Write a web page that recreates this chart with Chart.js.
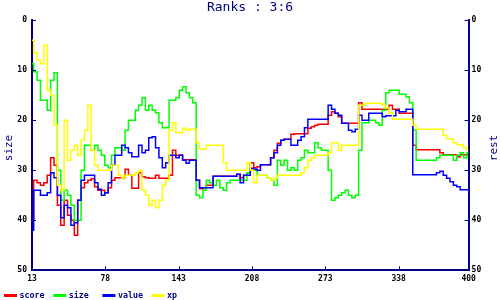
<!DOCTYPE html>
<html>
<head>
<meta charset="utf-8">
<script src="https://cdn.jsdelivr.net/npm/chart.js@4.4.0/dist/chart.umd.min.js"></script>
<style>
  html, body { margin: 0; padding: 0; background: #fff; }
  #wrap { width: 500px; height: 300px; }
</style>
</head>
<body>
<div id="wrap"><canvas id="ranks" width="500" height="300"></canvas></div>
<script>
// x positions (rounds) and the four rank series
var xs = [13,16,19,22,25,28,31,34,37,40,43,46,49,52,55,58,61,64,67,70,
  73,76,79,82,85,88,91,94,97,100,103,106,109,112,115,118,121,124,127,130,
  133,136,139,142,145,148,151,154,157,160,163,166,169,172,175,178,181,184,187,190,
  193,196,199,202,205,208,211,214,217,220,223,226,229,232,235,238,241,244,247,250,
  253,256,259,262,265,268,271,274,277,280,283,286,289,292,295,298,301,304,307,310,
  313,316,319,322,325,328,331,334,337,340,343,346,349,352,355,358,361,364,367,370,
  373,376,379,382,385,388,391,394,397,400];

var tickLabels = [13, 78, 143, 208, 273, 338, 400];
var rankTicks = [0, 10, 20, 30, 40, 50];

var score = [40,32,32.5,33,32.5,31,27.5,29,37,41,
  36,39,40,43,36,33.5,32.5,32,31.7,33.3,
  34,34,34.5,33.5,32,31.5,31.5,31.5,29.8,31,
  33.6,33.6,30.5,31.3,31.5,31.6,31.6,31,31.6,31.6,
  31.6,31,26,27,27,27.9,27.9,27.9,27.9,32,
  33.7,33.5,33,33,31.2,31.2,31.2,31.2,31.2,31.2,
  31.2,30.8,31.5,31,30.5,28.5,29.5,29.3,28.9,28.9,
  28.9,27.5,26,24.6,24,23.8,23.8,22.8,22.7,22.7,
  22.7,22.7,21.6,21.3,21,20.8,20.8,20.8,19,18.3,
  18.6,19.3,20.6,20.6,20.6,20.6,20.6,16.5,17.8,17.8,
  17.8,17.8,17.8,17.8,17.8,17.8,17,17.8,17.8,18.6,
  18.6,18.6,18.6,25,25.9,25.9,25.9,25.9,25.9,25.9,
  25.9,26.5,26.9,26.9,26.9,26.9,27.3,26.9,26.9,26.9];

var size = [8.7,10.3,12,16,16,18,12,10.5,30,36,
  34,35,37,40,40,30,25,25,26,25,
  26,27,29,29.5,27,25.5,25.5,26,22,20,
  20,18,17,15.5,18,17,18,18.5,20.5,21.5,
  21.5,16,16,15.5,14,13.3,14.5,15.5,16.5,35,
  35.5,34,32,32.5,33,32,33.5,34,32.5,32,
  32,32,32,32,30.5,30,30,31,31,31,
  31.5,32,33,28,29,28,30,29.5,30,28,
  27.5,26,26.5,26.5,24.5,25.5,26,26,30,36,
  35.5,35,34.5,34,35,35.5,35,26,20.5,20.5,
  20,20,20.5,21,18,14.5,14,14,14,14.8,
  14.8,15.3,16.5,22,28,28,28,28,28,28,
  27.5,27,27,27,27,28,27,26.5,27.5,26.5];

var value = [42,34,34,35,35,34.5,30.5,31.5,35,39.5,
  37,37.5,41,40.5,36,32,31,31,31,32.5,
  33.8,35,34.5,32.5,29,27,27,25,25.5,26.5,
  27.3,27.3,25,26.5,26,23.5,23.3,25.5,27.5,29.5,
  28.5,27,27,27.5,27,28,28.6,28,28,32,
  33.5,33.5,33.5,33.5,31.2,31.2,31.2,31.2,31.2,31.2,
  31.2,30.8,32.5,31,31,29.6,29.8,30,28.9,28.9,
  28.9,27.5,26.5,25,24,23.8,23.8,25,25,24,
  23.3,21.5,19.8,19.8,19.8,19.8,19.8,19.8,17,17.8,
  18.6,19,20.6,20.6,22,22.3,21.8,19,20,20,
  18.6,18.6,18.6,18.6,19.3,19.1,19.1,19.1,18,18.3,
  18.3,17.8,17.8,30.9,30.9,30.9,30.9,30.9,30.9,30.9,
  30.5,30.2,31,31.6,32.3,33,33.3,33.9,33.9,33.9];

var xp = [4,6.5,8,8.7,5,14,15,21,33,34,
  20,28,26,25,27,24,22,17,26,29,
  30,30,30,30,29,29,31,31.5,31,31,
  31,30.5,30,34,35,37,36,37.5,36,33,
  32,22,20.5,22.5,22.5,21.6,22,21.8,21.8,24.5,
  25.8,25.8,25,25,25,25,25,28.5,30,30,
  30,30,30,30,28.5,30,32.5,31,31,31,
  31.5,32,31.5,31,31,31,31,31,31,31,
  30.5,29.5,28,27.5,27,27,27,27,26.5,24.5,
  24.5,26,25,25,25,25,25,17,17,16.6,
  16.6,16.6,16.6,16.6,17,17.5,18.5,19.8,19.8,19.8,
  19.8,19.8,19.8,21,21.8,21.8,21.8,21.8,21.8,21.8,
  21.8,21.8,23,23.7,23.7,24.5,24.9,24.9,25.5,26];

var navy = '#000080';
var mono = "'DejaVu Sans Mono', 'Liberation Mono', monospace";

function pts(arr) {
  return xs.map(function(x, i) { return { x: x, y: arr[i] }; });
}

function series(label, arr, color, order) {
  return {
    label: label,
    data: pts(arr),
    borderColor: color,
    backgroundColor: color,
    borderWidth: 1.5,
    pointRadius: 0,
    stepped: 'middle',
    fill: false,
    order: order
  };
}

// inward tick marks, rotated axis titles and the legend strip under the x axis
var extras = {
  id: 'extras',
  afterDraw: function(chart) {
    var ctx = chart.ctx, a = chart.chartArea;
    var sx = chart.scales.x, yl = chart.scales.y;
    ctx.save();
    ctx.strokeStyle = navy;
    ctx.lineWidth = 1;
    ctx.beginPath();
    sx.ticks.forEach(function(t) {
      var px = Math.round(sx.getPixelForValue(t.value)) + 0.5;
      ctx.moveTo(px, a.bottom);
      ctx.lineTo(px, a.bottom - 4);
    });
    yl.ticks.forEach(function(t) {
      var py = Math.round(yl.getPixelForValue(t.value)) + 0.5;
      ctx.moveTo(a.left, py);
      ctx.lineTo(a.left + 4, py);
      ctx.moveTo(a.right, py);
      ctx.lineTo(a.right - 4, py);
    });
    ctx.stroke();

    ctx.fillStyle = navy;
    ctx.font = '11px ' + mono;
    ctx.textAlign = 'center';
    ctx.textBaseline = 'middle';
    [[9, 'size'], [494, 'rest']].forEach(function(t) {
      ctx.save();
      ctx.translate(t[0], 148);
      ctx.rotate(-Math.PI / 2);
      ctx.fillText(t[1], 0, 0);
      ctx.restore();
    });

    ctx.font = 'bold 8.3px ' + mono;
    ctx.textAlign = 'left';
    chart.data.datasets.forEach(function(ds, i) {
      var x0 = 4 + i * 49.2;
      ctx.strokeStyle = ds.borderColor;
      ctx.lineWidth = 3;
      ctx.beginPath();
      ctx.moveTo(x0, 295.5);
      ctx.lineTo(x0 + 13, 295.5);
      ctx.stroke();
      ctx.fillStyle = navy;
      ctx.fillText(ds.label, x0 + 15.5, 296);
    });
    ctx.restore();
  }
};

var rankAxis = function(pos, pad, width) {
  return {
    type: 'linear',
    position: pos,
    reverse: true,
    min: 0,
    max: 50,
    afterBuildTicks: function(scale) {
      scale.ticks = rankTicks.map(function(v) { return { value: v }; });
    },
    afterFit: function(scale) { scale.width = width; },
    grid: { display: false, drawTicks: false },
    border: { display: true, color: navy, width: 2 },
    ticks: {
      color: '#000',
      padding: pad,
      font: { family: mono, size: 8, weight: 'bold' }
    }
  };
};

var ctx = document.getElementById('ranks');
var ranksChart = new Chart(ctx, {
  type: 'line',
  data: {
    datasets: [
      series('score', score, '#ff0000', 3),
      series('size', size, '#00ff00', 2),
      series('value', value, '#0000ff', 1),
      series('xp', xp, '#ffff00', 0)
    ]
  },
  options: {
    responsive: false,
    animation: false,
    events: [],
    layout: { padding: 0 },
    plugins: {
      legend: { display: false },
      tooltip: { enabled: false },
      title: {
        display: true,
        text: 'Ranks : 3:6',
        color: navy,
        font: { family: mono, size: 13, weight: 'normal' },
        padding: { top: 0, bottom: 4.7 }
      }
    },
    scales: {
      x: {
        type: 'linear',
        min: 13,
        max: 400,
        afterBuildTicks: function(scale) {
          scale.ticks = tickLabels.map(function(v) { return { value: v }; });
        },
        afterFit: function(scale) { scale.height = 29.7; },
        grid: { display: false, drawTicks: false },
        border: { display: true, color: navy, width: 2 },
        ticks: {
          color: '#000',
          padding: 4,
          maxRotation: 0,
          autoSkip: false,
          font: { family: mono, size: 8, weight: 'bold' }
        }
      },
      y: rankAxis('left', 5, 32),
      y2: rankAxis('right', 3, 31.4)
    }
  },
  plugins: [extras]
});
</script>
</body>
</html>
